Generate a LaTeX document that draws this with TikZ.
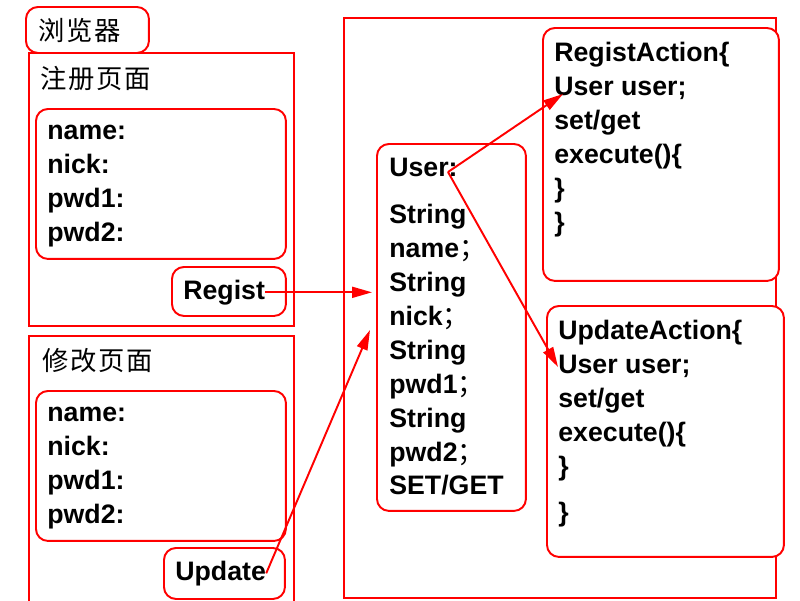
\documentclass[tikz,border=0pt]{standalone}
\usepackage{fontspec}
\setmainfont{Liberation Sans}
\newfontfamily\cjk{Noto Sans CJK SC}
\newfontfamily\cjktitle[LetterSpace=7]{Noto Sans CJK SC}
\usetikzlibrary{arrows.meta, positioning}

\tikzset{
  frame/.style={draw=red, line width=1.1pt, fill=white, anchor=north west, inner sep=0},
  rbox/.style={frame, rounded corners=0.24cm},
  code/.style={font=\bfseries\fontsize{15.2}{19.3}\selectfont, align=left, anchor=north west, inner sep=0, execute at begin node=\strut},
  cn/.style={font=\cjktitle\fontsize{15}{18}\selectfont, anchor=base west, inner sep=0},
  link/.style={draw=red, line width=1.1pt, -{Triangle[length=0.4cm,width=0.22cm]}}
}
\newcommand{\fsemi}{{\mdseries\cjk ；}}

\begin{document}
\begin{tikzpicture}[x=0.02cm, y=-0.02cm]
        \useasboundingbox (0,0) rectangle (800,600);
        % browser side
        \node[frame, minimum width=5.3cm, minimum height=5.46cm] (regpage) at (28,52) {};
        \node[frame, minimum width=5.3cm, minimum height=5.5cm] (modpage) at (28,335) {};
        \node[rbox, minimum width=2.46cm, minimum height=0.92cm] (browser) at (25,6) {};
        \node[cn] (browsertxt) at (38,40) {浏览器};
        \node[cn] (regtitle) at (40,88) {注册页面};
        \node[rbox, minimum width=5.0cm, minimum height=3.0cm] (reginner) at (35,108) {};
        \node[code] (regfields) at (47,125) {name:\\nick:\\pwd1:\\pwd2:};
        \node[rbox, minimum width=2.28cm, minimum height=0.98cm] (regbtn) at (171,266) {};
        \node[code] (regtxt) at (183,275) {Regist};
        \node[cn] (modtitle) at (42,370) {修改页面};
        \node[rbox, minimum width=5.0cm, minimum height=3.0cm] (modinner) at (35,390) {};
        \node[code] (modfields) at (47,407) {name:\\nick:\\pwd1:\\pwd2:};
        \node[rbox, minimum width=2.42cm, minimum height=1.02cm] (updbtn) at (163,547) {};
        \node[code] (updtxt) at (175,556) {Update};
        % server side
        \node[frame, minimum width=8.64cm, minimum height=11.6cm] (server) at (343,17) {};
        \node[rbox, minimum width=2.98cm, minimum height=7.34cm] (userbox) at (376,143) {};
        \node[code] (usertxt) at (389,158) {User:\\[7.4pt]String\\name\fsemi\\String\\nick\fsemi\\String\\pwd1\fsemi\\String\\pwd2\fsemi\\SET/GET};
        \node[rbox, minimum width=4.72cm, minimum height=5.06cm] (regact) at (542,27) {};
        \node[code] (regacttxt) at (554,42) {RegistAction\{\\User user;\\set/get\\execute()\{\\\}\\\}};
        \node[rbox, minimum width=4.74cm, minimum height=5.02cm] (updact) at (546,305) {};
        \node[code] (updacttxt) at (558,320) {UpdateAction\{\\User user;\\set/get\\execute()\{\\\}\\[6.8pt]\}};
        % links
        \coordinate (userout) at (448,172);
        \coordinate (updin) at (370,330);
        \coordinate (regactin) at (563,94);
        \coordinate (updactin) at (558,367);
        \draw[link, shorten >=0.08cm] (regtxt.east) -- (regtxt.east -| userbox.west);
        \draw[link] (updtxt.east) -- (updin);
        \draw[link] (userout) -- (regactin);
        \draw[link] (userout) -- (updactin);
      \end{tikzpicture}
\end{document}
